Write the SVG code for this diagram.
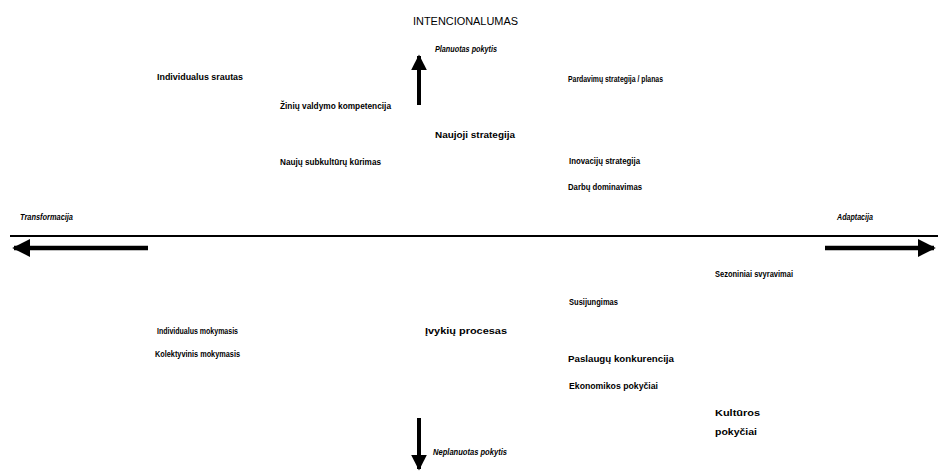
<svg xmlns="http://www.w3.org/2000/svg" width="938" height="472" viewBox="0 0 938 472">
<style>
text{font-family:"Liberation Sans",Arial,sans-serif;font-size:9px;font-weight:bold;fill:#000;dominant-baseline:middle}
.it{font-style:italic;font-size:8.5px}
.ax{stroke:#000;fill:none}
</style>
<defs>
<marker id="ah" viewBox="0 0 10 10" refX="9" refY="5" markerWidth="4" markerHeight="4" orient="auto" markerUnits="strokeWidth">
<path d="M0,0 L10,5 L0,10 z" fill="#000"/>
</marker>
</defs>
<rect width="938" height="472" fill="#fff"/>
<g id="connectors">
<line class="ax" x1="10" y1="236" x2="938" y2="236" stroke-width="2"/>
<line class="ax" x1="148" y1="248" x2="14" y2="248" stroke-width="4.5" marker-end="url(#ah)"/>
<line class="ax" x1="825" y1="248" x2="934" y2="248" stroke-width="4.5" marker-end="url(#ah)"/>
<line class="ax" x1="419" y1="105" x2="419" y2="56" stroke-width="4" marker-end="url(#ah)"/>
<line class="ax" x1="419" y1="418" x2="419" y2="469" stroke-width="4" marker-end="url(#ah)"/>
</g>
<g id="n-intencionalumas"><text x="413" y="22" textLength="105" lengthAdjust="spacingAndGlyphs" style="font-weight:normal;font-size:10px">INTENCIONALUMAS</text></g>
<g id="n-planuotas"><text class="it" x="435" y="50" textLength="62" lengthAdjust="spacingAndGlyphs">Planuotas pokytis</text></g>
<g id="n-neplanuotas"><text class="it" x="433" y="453" textLength="74" lengthAdjust="spacingAndGlyphs">Neplanuotas pokytis</text></g>
<g id="n-transformacija"><text class="it" x="20" y="218" textLength="53" lengthAdjust="spacingAndGlyphs">Transformacija</text></g>
<g id="n-adaptacija"><text class="it" x="837" y="218" textLength="36" lengthAdjust="spacingAndGlyphs">Adaptacija</text></g>
<g id="n1"><text x="157" y="78" textLength="86" lengthAdjust="spacingAndGlyphs">Individualus srautas</text></g>
<g id="n2"><text x="280" y="107" textLength="111" lengthAdjust="spacingAndGlyphs">Žinių valdymo kompetencija</text></g>
<g id="n3"><text x="280" y="163" textLength="101" lengthAdjust="spacingAndGlyphs">Naujų subkultūrų kūrimas</text></g>
<g id="n4"><text x="435" y="136" textLength="80" lengthAdjust="spacingAndGlyphs">Naujoji strategija</text></g>
<g id="n5"><text x="568" y="80" textLength="95" lengthAdjust="spacingAndGlyphs">Pardavimų strategija / planas</text></g>
<g id="n6"><text x="569" y="162" textLength="71" lengthAdjust="spacingAndGlyphs">Inovacijų strategija</text></g>
<g id="n7"><text x="568" y="188" textLength="74" lengthAdjust="spacingAndGlyphs">Darbų dominavimas</text></g>
<g id="n8"><text x="715" y="275" textLength="78" lengthAdjust="spacingAndGlyphs">Sezoniniai svyravimai</text></g>
<g id="n9"><text x="569" y="303" textLength="49" lengthAdjust="spacingAndGlyphs">Susijungimas</text></g>
<g id="n10"><text x="157" y="332" textLength="81" lengthAdjust="spacingAndGlyphs">Individualus mokymasis</text></g>
<g id="n11"><text x="155" y="355" textLength="85" lengthAdjust="spacingAndGlyphs">Kolektyvinis mokymasis</text></g>
<g id="n12"><text x="425" y="332" textLength="82" lengthAdjust="spacingAndGlyphs">Įvykių procesas</text></g>
<g id="n13"><text x="568" y="360" textLength="106" lengthAdjust="spacingAndGlyphs">Paslaugų konkurencija</text></g>
<g id="n14"><text x="569" y="387" textLength="89" lengthAdjust="spacingAndGlyphs">Ekonomikos pokyčiai</text></g>
<g id="n15"><text x="715" y="414" textLength="45" lengthAdjust="spacingAndGlyphs">Kultūros</text><text x="715" y="433" textLength="42" lengthAdjust="spacingAndGlyphs">pokyčiai</text></g>
</svg>
